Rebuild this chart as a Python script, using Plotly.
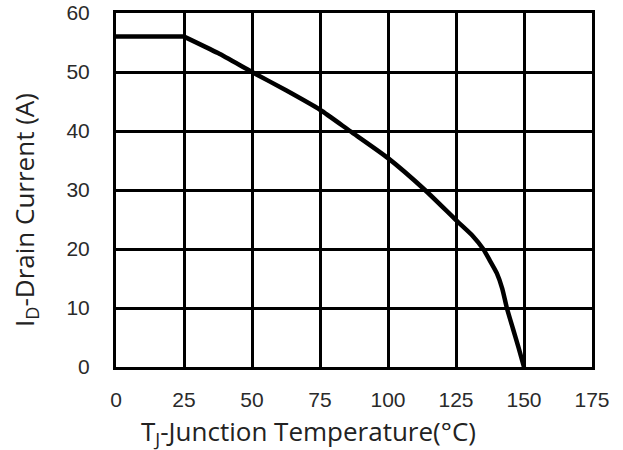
import plotly.graph_objects as go

# Data
temperature_c = [0, 25, 37.5, 50, 62.5, 75, 86, 100, 113.6, 125, 131, 135, 137.5, 140, 142, 143.7, 146, 148, 150]
drain_current_a = [56, 56, 53.2, 50, 46.9, 43.6, 40, 35.4, 30, 24.9, 22.3, 20, 18.0, 15.9, 13.3, 10, 6.4, 3.3, 0]

x_ticks = [0, 25, 50, 75, 100, 125, 150, 175]
y_ticks = [0, 10, 20, 30, 40, 50, 60]

x_title = "T<sub>J</sub>-Junction Temperature(°C)"
y_title = "I<sub>D</sub>-Drain Current (A)"

PL, PT, PR, PB = 116, 13, 592, 367   # plot area in page pixels
PW, PH = PR - PL, PB - PT

fig = go.Figure()
# flat current-limited section (sharp corner at 25 °C)
fig.add_trace(go.Scatter(
    x=temperature_c[:2], y=drain_current_a[:2], mode="lines",
    line=dict(color="black", width=4.5, shape="linear"),
    showlegend=False, hoverinfo="skip",
))
# smooth derating curve
fig.add_trace(go.Scatter(
    x=temperature_c[1:], y=drain_current_a[1:], mode="lines",
    line=dict(color="black", width=4.5, shape="spline", smoothing=0.6),
    showlegend=False, hoverinfo="skip",
))

axis_common = dict(
    showgrid=True, gridcolor="black", gridwidth=3,
    showline=True, linecolor="black", linewidth=3, mirror=True,
    zeroline=False, ticks="", automargin=False, ticklabeloverflow="allow",
    tickfont=dict(family="Liberation Sans, Arial", size=21, color="#2a2a2a"),
)

fig.update_xaxes(range=[0, 175], tickvals=x_ticks, ticklabelstandoff=12, **axis_common)
fig.update_yaxes(range=[0, 60], tickvals=y_ticks, ticklabelstandoff=19, **axis_common)

title_font = dict(family="Open Sans, Noto Sans", size=26, color="#222")
fig.add_annotation(text=x_title, xref="paper", yref="paper", x=(308 - PL) / PW, y=-(432 - PB) / PH,
                   xanchor="center", yanchor="middle", showarrow=False, font=title_font)
fig.add_annotation(text=y_title, xref="paper", yref="paper", x=-(PL - 25) / PW, y=(PB - 210) / PH,
                   xanchor="center", yanchor="middle", showarrow=False, textangle=-90, font=title_font)

fig.update_layout(
    width=623, height=450,
    margin=dict(l=PL, r=623 - PR, t=PT, b=450 - PB, autoexpand=False),
    paper_bgcolor="white", plot_bgcolor="white",
)

fig.write_html("out.html", config={"displayModeBar": False},
               post_script="document.body.style.margin='0';")
